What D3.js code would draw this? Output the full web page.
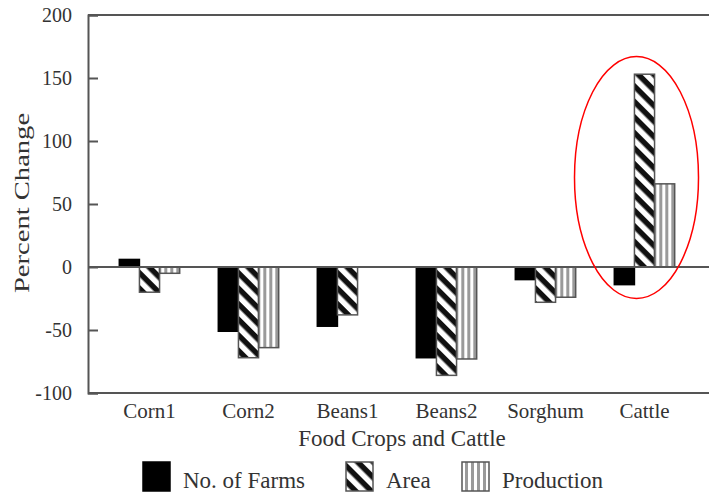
<!DOCTYPE html>
<html><head><meta charset="utf-8">
<script src="https://cdn.jsdelivr.net/npm/d3@7"></script>
<style>
html,body{margin:0;padding:0;background:#fff;}
svg text{font-family:"Liberation Serif","Times New Roman",serif !important;fill:#333;}
</style></head>
<body>
<svg id="chart" width="709" height="495"></svg>
<script>
const categories = ["Corn1","Corn2","Beans1","Beans2","Sorghum","Cattle"];
const seriesNames = ["No. of Farms","Area","Production"];
const farms      = [6, -51, -47, -72, -10, -14];
const area       = [-20, -72, -38, -86, -28, 153];
const production = [-5, -64, 0, -73, -24, 66];
const yTicks = [-100, -50, 0, 50, 100, 150, 200];
const yTitle = "Percent Change";
const xTitle = "Food Crops and Cattle";

const seriesValues = [farms, area, production];
const serif = "'Liberation Serif','Times New Roman',serif";
const svg = d3.select("#chart");
const defs = svg.append("defs");

// patterns
const pArea = defs.append("pattern").attr("id","pArea").attr("patternUnits","userSpaceOnUse")
  .attr("width",11).attr("height",11).attr("patternTransform","rotate(45)");
pArea.append("rect").attr("width",11).attr("height",11).attr("fill","#fff");
pArea.append("rect").attr("width",11).attr("height",5.5).attr("fill","#111");
const pProd = defs.append("pattern").attr("id","pProd").attr("patternUnits","userSpaceOnUse")
  .attr("width",6).attr("height",6);
pProd.append("rect").attr("width",6).attr("height",6).attr("fill","#fff");
pProd.append("rect").attr("x",3).attr("width",3).attr("height",6).attr("fill","#9a9a9a");

const fills = ["#000","url(#pArea)","url(#pProd)"];

const mLeft = 88, mRight = 709, mTop = 15, mBottom = 393;
const y = d3.scaleLinear().domain([-100, 200]).range([mBottom, mTop]);
const x0 = d3.scaleBand().domain(categories).range([100, 694]).paddingInner(0.39).paddingOuter(0.195);
const x1 = d3.scaleBand().domain(seriesNames).range([0, x0.bandwidth()]);

// frame
const frameColor = "#555";
svg.append("line").attr("x1",mLeft).attr("x2",mRight).attr("y1",mTop).attr("y2",mTop)
  .attr("stroke",frameColor).attr("stroke-width",2);
svg.append("line").attr("x1",mLeft).attr("x2",mRight).attr("y1",mBottom).attr("y2",mBottom)
  .attr("stroke",frameColor).attr("stroke-width",2);

// y axis with inward ticks
const yAxis = svg.append("g").attr("transform",`translate(${mLeft},0)`)
  .call(d3.axisRight(y).tickValues(yTicks).tickSize(10).tickFormat(d=>String(d)));
yAxis.attr("font-family",serif);
yAxis.select(".domain").attr("stroke",frameColor).attr("stroke-width",2);
yAxis.selectAll(".tick line").attr("stroke",frameColor).attr("stroke-width",2);
yAxis.selectAll(".tick text").attr("x",-16).attr("text-anchor","end")
  .style("font-size","20px").attr("fill","#333").attr("dy","0.32em");

// bars
const groups = svg.append("g").selectAll("g").data(categories).join("g")
  .attr("transform",d=>`translate(${x0(d)},0)`);
groups.selectAll("rect").data((c,i)=>seriesNames.map((s,j)=>({s, j, v: seriesValues[j][i]})).filter(d=>d.v !== 0))
  .join("rect")
  .attr("x",d=>x1(d.s))
  .attr("width",x1.bandwidth())
  .attr("y",d=>y(Math.max(0,d.v)))
  .attr("height",d=>Math.abs(y(d.v)-y(0)))
  .attr("fill",d=>fills[d.j])
  .attr("stroke",d=>d.j===0?"#000":"#555")
  .attr("stroke-width",1.5);

// zero line
svg.append("line").attr("x1",mLeft).attr("x2",mRight).attr("y1",y(0)).attr("y2",y(0))
  .attr("stroke",frameColor).attr("stroke-width",2);

// x labels
svg.append("g").selectAll("text").data(categories).join("text")
  .attr("x",d=>x0(d)+x0.bandwidth()/2).attr("y",mBottom+25)
  .attr("text-anchor","middle").style("font-size","21px").text(d=>d);

// axis titles
svg.append("text").attr("x",402).attr("y",446).attr("text-anchor","middle")
  .style("font-size","23px").text(xTitle);
svg.append("text").attr("transform",`translate(29,203) rotate(-90) scale(1.3,1)`)
  .attr("text-anchor","middle").style("font-size","22px").text(yTitle);

// annotation ellipse around Cattle
const cx = x0("Cattle") + x0.bandwidth()/2 - 8;
svg.append("ellipse").attr("cx",cx).attr("cy",(y(167)+y(-25))/2)
  .attr("rx",62).attr("ry",(y(-25)-y(167))/2)
  .attr("fill","none").attr("stroke","red").attr("stroke-width",1.5);

// legend
const legendX = [143, 346, 462];
const leg = svg.append("g").selectAll("g").data(seriesNames).join("g")
  .attr("transform",(d,i)=>`translate(${legendX[i]},462)`);
leg.append("rect").attr("width",27).attr("height",29)
  .attr("fill",(d,i)=>fills[i])
  .attr("stroke",(d,i)=>i===0?"#000":"#555").attr("stroke-width",1.5);
leg.append("text").attr("x",40).attr("y",26).style("font-size","23px").text(d=>d);
</script>
</body></html>
